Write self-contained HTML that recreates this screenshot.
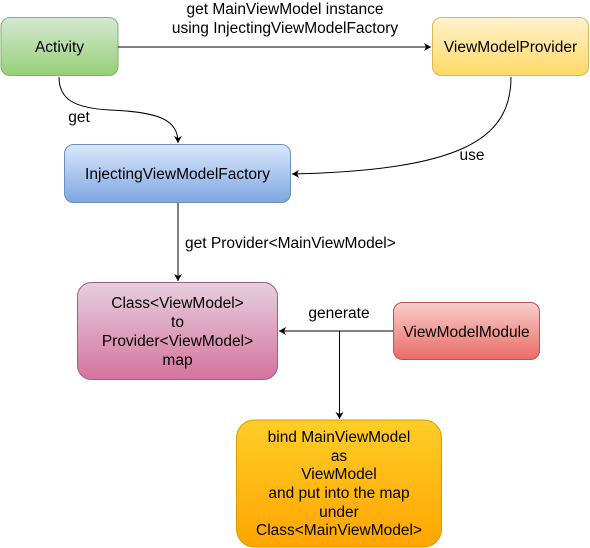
<!DOCTYPE html>
<html><head><meta charset="utf-8"><style>
html,body{margin:0;padding:0;background:#fff}
svg{display:block}
text{font-family:"Liberation Sans",Arial,sans-serif;font-size:15.5px;fill:#000}
</style></head><body>
<svg width="590" height="548" viewBox="0 0 590 548" xmlns="http://www.w3.org/2000/svg">
<defs>
<linearGradient id="g" x1="0" y1="0" x2="0" y2="1"><stop offset="0" stop-color="#d5e8d4"/><stop offset="1" stop-color="#97d077"/></linearGradient>
<linearGradient id="y" x1="0" y1="0" x2="0" y2="1"><stop offset="0" stop-color="#fff2cc"/><stop offset="1" stop-color="#ffd966"/></linearGradient>
<linearGradient id="b" x1="0" y1="0" x2="0" y2="1"><stop offset="0" stop-color="#dae8fc"/><stop offset="1" stop-color="#7ea6e0"/></linearGradient>
<linearGradient id="p" x1="0" y1="0" x2="0" y2="1"><stop offset="0" stop-color="#e6d0de"/><stop offset="1" stop-color="#d5739d"/></linearGradient>
<linearGradient id="r" x1="0" y1="0" x2="0" y2="1"><stop offset="0" stop-color="#f8cecc"/><stop offset="1" stop-color="#ea6b66"/></linearGradient>
<linearGradient id="o" x1="0" y1="0" x2="0" y2="1"><stop offset="0" stop-color="#ffcd28"/><stop offset="1" stop-color="#ffa500"/></linearGradient>
<marker id="a" markerWidth="10" markerHeight="10" refX="8" refY="5" orient="auto" markerUnits="userSpaceOnUse"><path d="M1,1 L8,5 L1,9 L3,5 Z" fill="#000"/></marker>
</defs>
<rect x="1" y="17.5" width="117" height="58" rx="9" fill="url(#g)" stroke="#82b366"/>
<text x="59.5" y="52" text-anchor="middle">Activity</text>
<rect x="432.5" y="17.5" width="156" height="58" rx="9" fill="url(#y)" stroke="#d6b656"/>
<text x="510.5" y="52" text-anchor="middle">ViewModelProvider</text>
<rect x="64.5" y="144.5" width="226" height="58" rx="9" fill="url(#b)" stroke="#6c8ebf"/>
<text x="177.5" y="179" text-anchor="middle">InjectingViewModelFactory</text>
<rect x="77.5" y="282.5" width="200" height="97" rx="14" fill="url(#p)" stroke="#996185"/>
<text x="177.5" y="308" text-anchor="middle">Class&lt;ViewModel&gt;</text>
<text x="177.5" y="327" text-anchor="middle">to</text>
<text x="177.5" y="346" text-anchor="middle">Provider&lt;ViewModel&gt;</text>
<text x="177.5" y="365" text-anchor="middle">map</text>
<rect x="393.5" y="302.5" width="146" height="57" rx="9" fill="url(#r)" stroke="#b85450"/>
<text x="466.5" y="337" text-anchor="middle">ViewModelModule</text>
<rect x="236.5" y="420" width="205" height="127" rx="18" fill="url(#o)" stroke="#d79b00"/>
<text x="339" y="442" text-anchor="middle">bind MainViewModel</text>
<text x="339" y="461" text-anchor="middle">as</text>
<text x="339" y="479" text-anchor="middle">ViewModel</text>
<text x="339" y="498" text-anchor="middle">and put into the map</text>
<text x="339" y="517" text-anchor="middle">under</text>
<text x="339" y="535" text-anchor="middle">Class&lt;MainViewModel&gt;</text>
<g fill="none" stroke="#000" stroke-width="1">
<path d="M118,47 H431" marker-end="url(#a)"/>
<path d="M59,77 C59,100 75,108 110,110 C160,112 178,120 178,143" marker-end="url(#a)"/>
<path d="M511,77 C511,140 460,170 292,174" marker-end="url(#a)"/>
<path d="M178,203 V281" marker-end="url(#a)"/>
<path d="M393,331 H279" marker-end="url(#a)"/>
<path d="M339.5,331 V419" marker-end="url(#a)"/>
</g>
<text x="285" y="14" text-anchor="middle">get MainViewModel instance</text>
<text x="285" y="33" text-anchor="middle">using InjectingViewModelFactory</text>
<text x="79" y="122" text-anchor="middle">get</text>
<text x="472" y="160" text-anchor="middle">use</text>
<text x="185" y="248">get Provider&lt;MainViewModel&gt;</text>
<text x="339" y="318" text-anchor="middle">generate</text>
</svg>
</body></html>
